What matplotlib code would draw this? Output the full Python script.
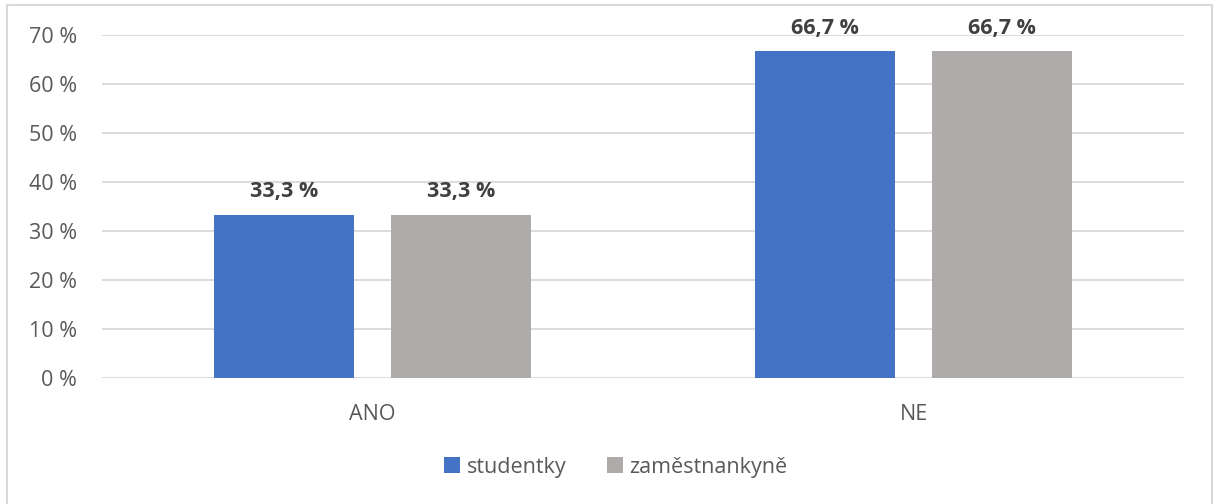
import numpy as np
import matplotlib.pyplot as plt
from matplotlib.patches import Rectangle

kategorie = ["ANO", "NE"]
studentky = [33.3, 66.7]
zamestnankyne = [33.3, 66.7]
serie = ["studentky", "zaměstnankyně"]
barvy = ["#4472C4", "#AFABAB"]

plt.rcParams['font.family'] = ['Open Sans', 'DejaVu Sans']
sedy_text = "#595959"

fig = plt.figure(figsize=(12.17, 5.04), dpi=100)
ax = fig.add_axes([0.0838, 0.25, 0.8892, 0.6806])

x = np.arange(len(kategorie))
sirka = 0.259
posun = 0.1636
for hodnoty, jmeno, barva, znam in [(studentky, serie[0], barvy[0], -1),
                                     (zamestnankyne, serie[1], barvy[1], 1)]:
    bars = ax.bar(x + znam * posun, hodnoty, sirka, color=barva, label=jmeno, zorder=3)
    for b, v in zip(bars, hodnoty):
        ax.annotate(f"{v:.1f} %".replace(".", ","),
                    (b.get_x() + b.get_width() / 2, v),
                    xytext=(0, 9), textcoords="offset points",
                    ha="center", va="bottom", fontsize=15.5, fontweight="bold",
                    color="#404040")

ax.set_xlim(-0.5, 1.5)
ax.set_ylim(0, 70)
ax.set_yticks(range(0, 71, 10))
ax.set_yticklabels([f"{t} %" for t in range(0, 71, 10)])
ax.set_xticks(x)
ax.set_xticklabels(kategorie)
ax.tick_params(axis="both", length=0, labelsize=15.5, labelcolor=sedy_text)
ax.tick_params(axis="y", pad=18)
ax.tick_params(axis="x", pad=19)
ax.grid(axis="y", color="#D9D9D9", linewidth=1.3, zorder=0)
for s in ax.spines.values():
    s.set_visible(False)

ax.legend(loc="center", bbox_to_anchor=(0.506, 0.073), bbox_transform=fig.transFigure,
          ncol=2, frameon=False, fontsize=15.5, handlelength=0.75, handleheight=0.75,
          handletextpad=0.3, columnspacing=1.9, labelcolor=sedy_text)

fig.patches.append(Rectangle((0.006, -0.01), 0.99, 1.0, transform=fig.transFigure,
                             fill=False, edgecolor="#D9D9D9", linewidth=1.5))

fig.savefig("out.png", dpi=100)
